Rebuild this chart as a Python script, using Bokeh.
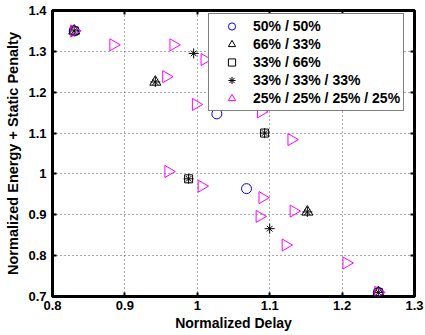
import math
from bokeh.plotting import figure
from bokeh.models import (Range1d, FixedTicker, LinearAxis, Legend, LegendItem)
from bokeh.embed import file_html
from bokeh.resources import INLINE

# ---- data ----
x_ticks = [0.8, 0.9, 1.0, 1.1, 1.2, 1.3]
x_tick_labels = ["0.8", "0.9", "1", "1.1", "1.2", "1.3"]
y_ticks = [0.7, 0.8, 0.9, 1.0, 1.1, 1.2, 1.3, 1.4]
y_tick_labels = ["0.7", "0.8", "0.9", "1", "1.1", "1.2", "1.3", "1.4"]

labels = ["50% / 50%", "66% / 33%", "33% / 66%", "33% / 33% / 33%",
          "25% / 25% / 25% / 25%"]

x_5050 = [0.83, 1.027, 1.068, 1.25]
y_5050 = [1.35, 1.147, 0.964, 0.71]

x_6633 = [0.83, 0.942, 1.152, 1.25]
y_6633 = [1.35, 1.225, 0.907, 0.71]

x_3366 = [0.83, 0.988, 1.093, 1.25]
y_3366 = [1.35, 0.988, 1.10, 0.71]

x_333333 = [0.83, 0.942, 0.995, 0.988, 1.093, 1.10, 1.152, 1.25]
y_333333 = [1.35, 1.225, 1.295, 0.988, 1.10, 0.866, 0.907, 0.71]

x_25x4 = [0.83, 0.884, 0.967, 1.01, 0.957, 0.998, 1.088, 1.13, 0.96, 1.006,
          1.09, 1.086, 1.133, 1.122, 1.206, 1.25]
y_25x4 = [1.35, 1.316, 1.316, 1.28, 1.238, 1.17, 1.152, 1.084, 1.006, 0.97,
          0.942, 0.896, 0.909, 0.826, 0.782, 0.71]

FONT = "Liberation Sans"

p = figure(width=425, height=335, output_backend="svg", toolbar_location=None,
           x_range=Range1d(0.8, 1.3), y_range=Range1d(0.7, 1.4),
           min_border_left=52, min_border_right=11, min_border_top=10,
           min_border_bottom=39)

p.background_fill_color = "white"
p.border_fill_color = "white"
p.outline_line_color = "black"
p.outline_line_width = 3

for ax, ticks, labs in ((p.xaxis[0], x_ticks, x_tick_labels),
                        (p.yaxis[0], y_ticks, y_tick_labels)):
    ax.ticker = FixedTicker(ticks=ticks)
    ax.major_label_overrides = {t: l for t, l in zip(ticks, labs)}
    ax.minor_tick_line_color = None
    ax.major_tick_in = 4
    ax.major_tick_out = 0
    ax.major_tick_line_width = 2
    ax.axis_line_color = None
    ax.major_label_text_font = FONT
    ax.major_label_text_font_style = "bold"
    ax.major_label_text_font_size = "13px"
    ax.major_label_text_color = "black"
    ax.axis_label_text_font = FONT
    ax.axis_label_text_font_style = "bold"
    ax.axis_label_text_color = "black"

p.xaxis.axis_label = "Normalized Delay"
p.xaxis.axis_label_text_font_size = "14px"
p.xaxis.major_label_standoff = 4
p.xaxis.axis_label_standoff = 2
p.yaxis.axis_label = "Normalized Energy + Static Penalty"
p.yaxis.axis_label_text_font_size = "14.5px"
p.yaxis.major_label_standoff = 6
p.yaxis.axis_label_standoff = 4

# mirror ticks on top and right (no labels)
for side, ticks in (("above", x_ticks), ("right", y_ticks)):
    ax = LinearAxis(ticker=FixedTicker(ticks=ticks))
    ax.major_label_text_color = None
    ax.major_label_text_font_size = "1px"
    ax.major_label_standoff = 0
    ax.minor_tick_line_color = None
    ax.major_tick_in = 4
    ax.major_tick_out = 0
    ax.major_tick_line_width = 2
    ax.axis_line_color = None
    p.add_layout(ax, side)

p.xgrid.ticker = FixedTicker(ticks=x_ticks)
p.ygrid.ticker = FixedTicker(ticks=y_ticks)
for g in (p.xgrid[0], p.ygrid[0]):
    g.grid_line_color = "#555555"
    g.grid_line_dash = "1 3"
    g.grid_line_width = 1

r1 = p.scatter(x_5050, y_5050, marker="circle", size=10, fill_color=None,
               line_color="#0000ff", line_width=1)
r2 = p.scatter(x_6633, y_6633, marker="triangle", size=11, fill_color=None,
               line_color="black", line_width=1)
r3 = p.scatter(x_3366, y_3366, marker="square", size=8, fill_color=None,
               line_color="black", line_width=1)
r4a = p.scatter(x_333333, y_333333, marker="cross", size=10,
                line_color="black", line_width=1)
r4b = p.scatter(x_333333, y_333333, marker="x", size=8,
                line_color="black", line_width=1)
r5 = p.scatter(x_25x4, y_25x4, marker="triangle", size=12, angle=-math.pi / 2,
               fill_color=None, line_color="#ff00ff", line_width=1)

legend = Legend(items=[
    LegendItem(label=labels[0], renderers=[r1]),
    LegendItem(label=labels[1], renderers=[r2]),
    LegendItem(label=labels[2], renderers=[r3]),
    LegendItem(label=labels[3], renderers=[r4a, r4b]),
    LegendItem(label=labels[4], renderers=[r5]),
], location=(156, 185))
legend.margin = 0
legend.padding = 3
legend.spacing = 0
legend.label_height = 18
legend.glyph_height = 18
legend.glyph_width = 39
legend.label_standoff = 2
legend.label_text_font = FONT
legend.label_text_font_style = "bold"
legend.label_text_font_size = "14px"
legend.label_text_color = "black"
legend.border_line_color = "black"
legend.border_line_width = 1
legend.background_fill_color = "white"
legend.background_fill_alpha = 1
p.add_layout(legend, "center")

open("out.html", "w").write(file_html(p, INLINE))
